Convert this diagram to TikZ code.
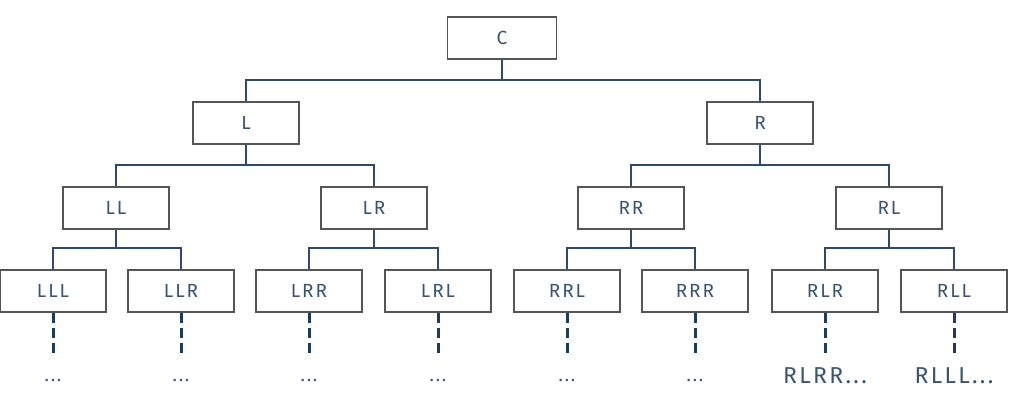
\documentclass[tikz,border=0pt]{standalone}
\usepackage{fontspec}
\setmainfont{Fira Sans}
\newfontfamily\treefont[LetterSpace=10]{Fira Sans}
\definecolor{boxgray}{HTML}{555555}
\definecolor{linkblue}{HTML}{2D4A6B}
\definecolor{trailblue}{HTML}{1E3A5C}
\definecolor{inkblue}{HTML}{3A5474}

\begin{document}
\begin{tikzpicture}[x=1pt,y=-1pt,
    box/.style={draw=boxgray, line width=1.6pt, minimum width=106pt, minimum height=42pt,
      inner sep=0pt, text=inkblue, font=\treefont\fontsize{19}{19}\selectfont},
    link/.style={draw=linkblue, line width=1.6pt},
    trail/.style={draw=trailblue, line width=3pt, dash pattern=on 10pt off 5pt},
    tail/.style={text=inkblue, inner sep=0pt, font=\treefont\fontsize{18}{18}\selectfont},
    bigtail/.style={text=inkblue, inner sep=0pt, font=\treefont\fontsize{23}{23}\selectfont}]
    \useasboundingbox (0,0) rectangle (1021,402);

    % Root
    \node[box, minimum width=109pt] (C) at (502,38) {C};

    % Second level
    \node[box] (L) at (246,123) {L};
    \node[box] (R) at (760,123) {R};

    % Third level
    \node[box] (LL) at (116,208) {LL};
    \node[box] (LR) at (374,208) {LR};
    \node[box] (RR) at (631,208) {RR};
    \node[box] (RL) at (889,208) {RL};

    % Fourth level
    \node[box] (LLL) at (53,291) {LLL};
    \node[box] (LLR) at (181,291) {LLR};
    \node[box] (LRR) at (309,291) {LRR};
    \node[box] (LRL) at (438,291) {LRL};
    \node[box] (RRL) at (567,291) {RRL};
    \node[box] (RRR) at (695,291) {RRR};
    \node[box] (RLR) at (825,291) {RLR};
    \node[box] (RLL) at (954,291) {RLL};

    % Links
    \draw[link] (L.north) -- ++(0,-21) -| (C.south);
    \draw[link] (R.north) -- ++(0,-21) -| (C.south);
    \draw[link] (LL.north) -- ++(0,-21) -| (L.south);
    \draw[link] (LR.north) -- ++(0,-21) -| (L.south);
    \draw[link] (RR.north) -- ++(0,-21) -| (R.south);
    \draw[link] (RL.north) -- ++(0,-21) -| (R.south);
    \draw[link] (LLL.north) -- ++(0,-21) -| (LL.south);
    \draw[link] (LLR.north) -- ++(0,-21) -| (LL.south);
    \draw[link] (LRR.north) -- ++(0,-21) -| (LR.south);
    \draw[link] (LRL.north) -- ++(0,-21) -| (LR.south);
    \draw[link] (RRL.north) -- ++(0,-21) -| (RR.south);
    \draw[link] (RRR.north) -- ++(0,-21) -| (RR.south);
    \draw[link] (RLR.north) -- ++(0,-21) -| (RL.south);
    \draw[link] (RLL.north) -- ++(0,-21) -| (RL.south);

    % Trailing paths
    \foreach \leaf in {LLL,LLR,LRR,LRL,RRL,RRR,RLR,RLL}
        \draw[trail] (\leaf.south) -- ++(0,40);

    % Trailing labels
    \node[tail] (LLLdots) at (53,380) {...};
    \node[tail] (LLRdots) at (181,380) {...};
    \node[tail] (LRRdots) at (309,380) {...};
    \node[tail] (LRLdots) at (438,380) {...};
    \node[tail] (RRLdots) at (567,380) {...};
    \node[tail] (RRRdots) at (695,380) {...};
    \node[bigtail] (RLRdots) at (825,376) {RLRR...};
    \node[bigtail] (RLLdots) at (954,376) {RLLL...};
\end{tikzpicture}
\end{document}
